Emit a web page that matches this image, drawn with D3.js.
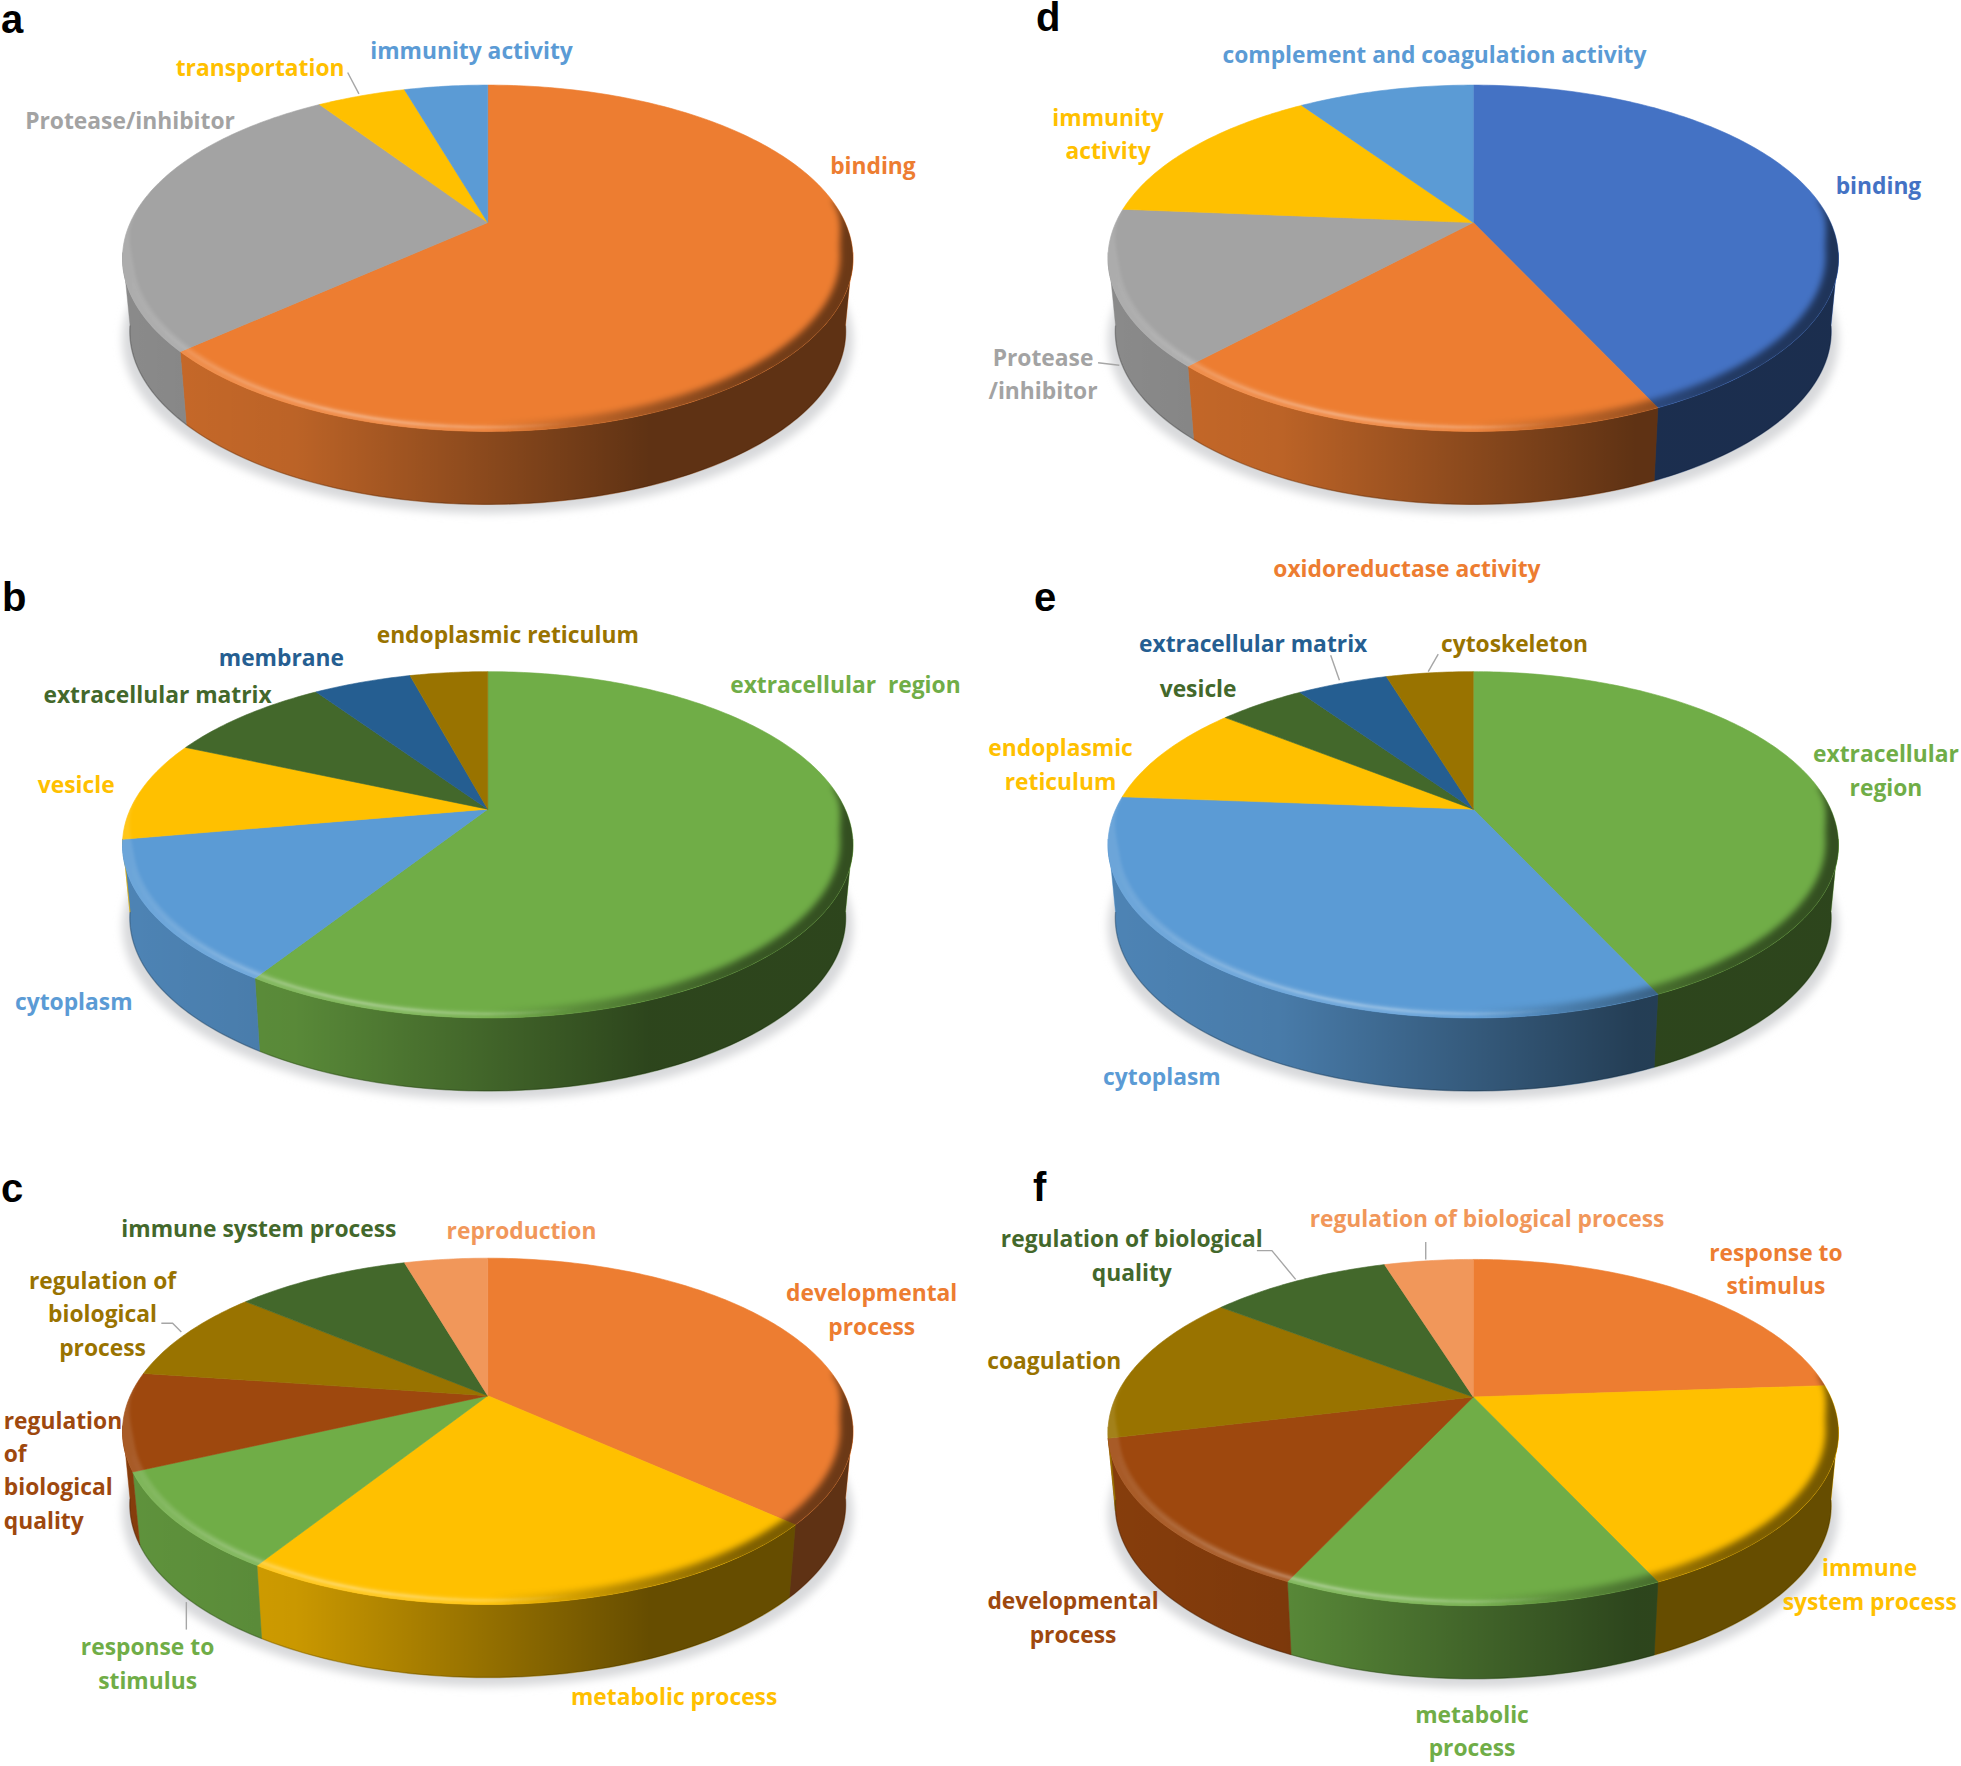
<!DOCTYPE html>
<html><head><meta charset="utf-8">
<style>html,body{margin:0;padding:0;background:#fff}svg{display:block}</style>
<script src="https://cdn.jsdelivr.net/npm/d3@7/dist/d3.min.js"></script>
</head><body><svg id="c" width="1961" height="1766"></svg>
<script>
// ---------- palette ----------
const ORANGE="#ED7D31",GRAY="#A3A3A3",YELLOW="#FFC000",BLUE="#5B9BD5",GREEN="#70AD47",
      NAVY="#4472C4",DGREEN="#43682B",MBLUE="#255E91",OCHRE="#997300",RUST="#9E480E",LORANGE="#F1975A";

// ---------- data (percent of annotated proteins, clockwise from 12 o'clock) ----------
const aCategories=["binding","Protease/inhibitor","transportation","immunity activity"];
const aValues=[63.3,27.4,4.8,4.5];
const aColors=[ORANGE,GRAY,YELLOW,BLUE];

const bCategories=["extracellular region","cytoplasm","vesicle","extracellular matrix","membrane","endoplasmic reticulum"];
const bValues=[59.05,13.15,9.4,8.9,5.3,4.2];
const bColors=[GREEN,BLUE,YELLOW,DGREEN,MBLUE,OCHRE];

const cCategories=["developmental process","metabolic process","response to stimulus","regulation of biological quality","regulation of biological process","immune system process","reproduction"];
const cValues=[36.7,22.25,9.15,9.1,8.9,9.4,4.5];
const cColors=[ORANGE,YELLOW,GREEN,RUST,OCHRE,DGREEN,LORANGE];

const dCategories=["binding","oxidoreductase activity","Protease/inhibitor","immunity activity","complement and coagulation activity"];
const dValues=[43.1,18.75,14.45,14.2,9.5];
const dColors=[NAVY,ORANGE,GRAY,YELLOW,BLUE];

const eCategories=["extracellular region","cytoplasm","endoplasmic reticulum","vesicle","extracellular matrix","cytoskeleton"];
const eValues=[43.1,33.1,9.5,4.7,4.9,4.7];
const eColors=[GREEN,BLUE,YELLOW,DGREEN,MBLUE,OCHRE];

const fCategories=["response to stimulus","immune system process","metabolic process","developmental process","coagulation","regulation of biological quality","regulation of biological process"];
const fValues=[23.9,19.2,13.85,14.25,14.2,9.8,4.8];
const fColors=[ORANGE,YELLOW,GREEN,RUST,OCHRE,DGREEN,LORANGE];

// ---------- layout (given in the 1568-wide frame, scaled by S) ----------
const S=1961/1568;
const panels=[
 {id:"a",letter:[1,33],apex:[390,178],cats:aCategories,vals:aValues,cols:aColors},
 {id:"b",letter:[2,611],apex:[390,647],cats:bCategories,vals:bValues,cols:bColors},
 {id:"c",letter:[1,1202],apex:[390,1116],cats:cCategories,vals:cValues,cols:cColors},
 {id:"d",letter:[1036,31],apex:[1178,178],cats:dCategories,vals:dValues,cols:dColors},
 {id:"e",letter:[1034,611],apex:[1178,647],cats:eCategories,vals:eValues,cols:eColors},
 {id:"f",letter:[1033,1201],apex:[1178,1117],cats:fCategories,vals:fValues,cols:fColors}
];
// label: [colour, anchor, x, [line centre ys], lines]
const labels=[
 [YELLOW,"middle",208,[54],["transportation"]],
 [BLUE,"middle",377,[41],["immunity activity"]],
 [GRAY,"middle",104,[97],["Protease/inhibitor"]],
 [ORANGE,"middle",698,[133],["binding"]],
 [OCHRE,"middle",406,[508],["endoplasmic reticulum"]],
 [MBLUE,"middle",225,[526],["membrane"]],
 [DGREEN,"middle",126,[556],["extracellular matrix"]],
 [YELLOW,"middle",61,[628],["vesicle"]],
 [BLUE,"middle",59,[801],["cytoplasm"]],
 [GREEN,"middle",676,[548],["extracellular  region"]],
 [DGREEN,"middle",207,[983],["immune system process"]],
 [LORANGE,"middle",417,[984],["reproduction"]],
 [OCHRE,"middle",82,[1024,1051,1078],["regulation of","biological","process"]],
 [RUST,"start",3,[1136,1163,1189,1216],["regulation","of","biological","quality"]],
 [GREEN,"middle",118,[1317,1344],["response to","stimulus"]],
 [YELLOW,"middle",539,[1357],["metabolic process"]],
 [ORANGE,"middle",697,[1034,1061],["developmental","process"]],
 [BLUE,"middle",1147,[44],["complement and coagulation activity"]],
 [YELLOW,"middle",886,[94,121],["immunity","activity"]],
 [NAVY,"middle",1502,[149],["binding"]],
 [GRAY,"middle",834,[286,313],["Protease","/inhibitor"]],
 [ORANGE,"middle",1125,[455],["oxidoreductase activity"]],
 [MBLUE,"middle",1002,[515],["extracellular matrix"]],
 [OCHRE,"middle",1211,[515],["cytoskeleton"]],
 [DGREEN,"middle",958,[551],["vesicle"]],
 [YELLOW,"middle",848,[598,625],["endoplasmic","reticulum"]],
 [GREEN,"middle",1508,[603,630],["extracellular","region"]],
 [BLUE,"middle",929,[861],["cytoplasm"]],
 [LORANGE,"middle",1189,[975],["regulation of biological process"]],
 [DGREEN,"middle",905,[991,1018],["regulation of biological","quality"]],
 [ORANGE,"middle",1420,[1002,1028],["response to","stimulus"]],
 [OCHRE,"middle",843,[1088],["coagulation"]],
 [YELLOW,"middle",1495,[1254,1281],["immune","system process"]],
 [RUST,"middle",858,[1280,1307],["developmental","process"]],
 [GREEN,"middle",1177,[1371,1398],["metabolic","process"]]
];
const leaders=[
 [[278,58],[287,75]],
 [[878,290],[895,292]],
 [[129,1058],[138,1058],[145,1065]],
 [[149,1281],[149,1303]],
 [[1064,524],[1071,544]],
 [[1150,523],[1142,537]],
 [[1005,1000],[1017,1000],[1036,1023]],
 [[1140,993],[1140,1007]]
];

// ---------- perspective disc ----------
const K=0.2058, RX=285.8*S, RY=132.6*S, DEPTH=73, BOTTOM_X=0.98;
const SIDE_FROM=100, SIDE_TO=260;
const rad=d=>d*Math.PI/180;
function rimPt(p,thetaRad,r=1){
  const u=r*Math.sin(thetaRad),v=r*Math.cos(thetaRad),w=1+K*v;
  return [p.cx+RX*u/w,p.cy-RY*v/w];
}
function basePt(p,thetaRad,sx=BOTTOM_X,dy=DEPTH){
  const q=rimPt(p,thetaRad);
  return [p.cx+(q[0]-p.cx)*sx,q[1]+dy];
}
const sweep=(a,b,step=rad(1))=>{
  const n=Math.max(1,Math.ceil((b-a)/step));
  return d3.range(n+1).map(i=>a+(b-a)*i/n);
};
const linePath=d3.line();
const svg=d3.select("#c");
const defs=svg.append("defs");
const addBlur=(id,s)=>defs.append("filter").attr("id",id)
  .attr("x","-10%").attr("y","-10%").attr("width","120%").attr("height","120%")
  .append("feGaussianBlur").attr("stdDeviation",s);
addBlur("b4",4.5);addBlur("b3",3);addBlur("b15",1.5);addBlur("b07",0.8);
function grad(id,stops){
  const g=defs.append("linearGradient").attr("id",id).attr("gradientUnits","userSpaceOnUse");
  stops.forEach(s=>g.append("stop").attr("offset",s[0]).attr("stop-color",s[1]).attr("stop-opacity",s[2]));
  return g;
}
const sideStops=[[0,"#000",.15],[.24,"#000",.21],[.5,"#000",.42],[.72,"#000",.6],[1,"#000",.6]];
const lightStops=[[0,"#fff",.1],[.15,"#fff",.14],[.4,"#fff",.14],[.6,"#fff",0],[1,"#fff",0]];
const darkStops=[[0,"#000",0],[.5,"#000",0],[.68,"#000",.28],[.85,"#000",.5],[1,"#000",.55]];
const glintStops=[[0,"#fff",0],[.12,"#fff",.1],[.3,"#fff",.32],[.5,"#fff",.22],[.62,"#fff",0],[1,"#fff",0]];

const pie=d3.pie().sort(null).startAngle(0).endAngle(2*Math.PI);

panels.forEach(P=>{
  const p={cx:P.apex[0]*S,cy:P.apex[1]*S};
  const span=[p.cx-RX*1.03,p.cx+RX*1.03];
  const mk=(name,stops)=>{const id=name+"-"+P.id;
    grad(id,stops).attr("x1",span[0]).attr("x2",span[1]).attr("y1",0).attr("y2",0);return `url(#${id})`;};
  const sideFill=mk("side",sideStops),lightFill=mk("light",lightStops),darkFill=mk("dark",darkStops),glintFill=mk("glint",glintStops);
  const g=svg.append("g").attr("class","panel-"+P.id);
  const arcs=pie(P.vals);
  const all=sweep(0,2*Math.PI);
  // ground shadow
  g.append("path").attr("d",linePath(all.map(t=>basePt(p,t,1.0,DEPTH+9)))+"Z")
    .attr("fill","#d8d9db").attr("filter","url(#b4)");
  // side wall
  const lo=rad(SIDE_FROM),hi=rad(SIDE_TO);
  arcs.forEach((a,i)=>{
    const s=Math.max(a.startAngle,lo),e=Math.min(a.endAngle,hi);
    if(e<=s)return;
    const t=sweep(s,e);
    const pts=t.map(x=>rimPt(p,x)).concat(t.slice().reverse().map(x=>basePt(p,x)));
    g.append("path").attr("d",linePath(pts)+"Z").attr("fill",P.cols[i]).attr("stroke",P.cols[i]).attr("stroke-width",.5);
  });
  const band=sweep(lo,hi);
  g.append("path").attr("d",linePath(band.map(x=>rimPt(p,x)).concat(band.slice().reverse().map(x=>basePt(p,x))))+"Z")
    .attr("fill",sideFill);
  g.append("path").attr("d",linePath(band.map(x=>basePt(p,x)))).attr("fill","none")
    .attr("stroke","#000").attr("stroke-opacity",.22).attr("stroke-width",1.4);
  // top face
  arcs.forEach((a,i)=>{
    const pts=[rimPt(p,0,0)].concat(sweep(a.startAngle,a.endAngle).map(x=>rimPt(p,x)));
    g.append("path").attr("class","slice").datum(P.cats[i])
      .attr("d",linePath(pts)+"Z").attr("fill",P.cols[i]).attr("stroke",P.cols[i]).attr("stroke-width",.6);
  });
  // rounded rim
  const clipId="clip-"+P.id;
  defs.append("clipPath").attr("id",clipId).append("path").attr("d",linePath(all.map(x=>rimPt(p,x)))+"Z");
  const rim=g.append("g").attr("clip-path",`url(#${clipId})`);
  const bevel=(from,to,fade,w,fill,filter)=>{
    const t0=rad(from),t1=rad(to),ring=sweep(t0,t1);
    const taper=t=>{const c=Math.min(1,Math.min(t-t0,t1-t)/rad(fade));return c*c*(3-2*c);};
    rim.append("path").attr("d",linePath(ring.map(x=>rimPt(p,x,1.015)).concat(ring.slice().reverse().map(x=>rimPt(p,x,1-w*taper(x)))))+"Z")
      .attr("fill",fill).attr("filter",filter);
  };
  bevel(150,274,20,.028,lightFill,"url(#b15)");
  bevel(82,200,18,.034,darkFill,"url(#b3)");
  const glint=sweep(rad(125),rad(250));
  rim.append("path").attr("d",linePath(glint.map(x=>rimPt(p,x,.984)))).attr("fill","none")
    .attr("stroke",glintFill).attr("stroke-width",2.2).attr("filter","url(#b07)");
  // panel letter
  g.append("text").attr("x",P.letter[0]).attr("y",P.letter[1]).text(P.id)
    .attr("font-family","'Liberation Sans',Arial,sans-serif").attr("font-weight",700).attr("font-size",40).attr("fill","#000");
});

// ---------- leaders ----------
svg.append("g").selectAll("path").data(leaders).join("path")
  .attr("d",d=>linePath(d.map(q=>[q[0]*S,q[1]*S]))).attr("fill","none").attr("stroke","#a6a6a6").attr("stroke-width",1.4);

// ---------- labels ----------
const lab=svg.append("g").attr("font-family","'Open Sans','Noto Sans',sans-serif").attr("font-weight",700).attr("font-size",22.8);
labels.forEach(([col,anc,x,ys,lines])=>{
  lines.forEach((t,i)=>{
    lab.append("text").attr("x",x*S).attr("y",ys[i]*S).attr("dy","0.35em").attr("text-anchor",anc)
      .attr("fill",col).style("white-space","pre").text(t);
  });
});
</script></body></html>
